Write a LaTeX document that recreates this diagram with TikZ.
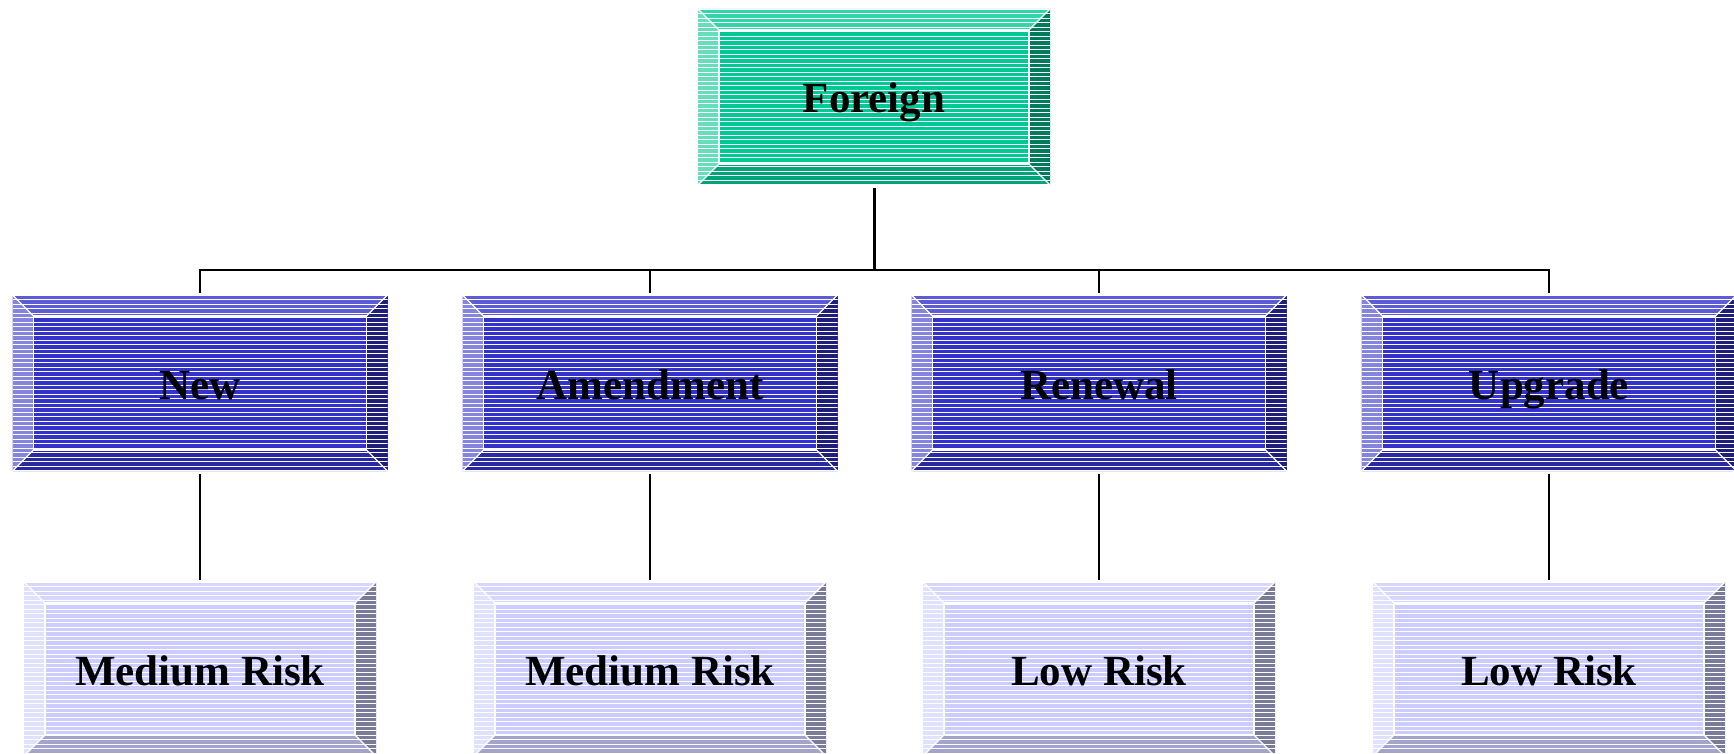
\documentclass[tikz,border=0pt]{standalone}
\usepackage{fontspec}
\setmainfont{Liberation Serif}
\definecolor{gF}{RGB}{0,200,150}
\definecolor{gT}{RGB}{51,212,170}
\definecolor{gL}{RGB}{102,221,187}
\definecolor{gR}{RGB}{0,122,92}
\definecolor{gB}{RGB}{0,163,122}
\definecolor{bF}{RGB}{51,51,204}
\definecolor{bT}{RGB}{92,92,214}
\definecolor{bL}{RGB}{133,133,224}
\definecolor{bR}{RGB}{31,31,122}
\definecolor{bB}{RGB}{41,41,163}
\definecolor{lF}{RGB}{204,204,255}
\definecolor{lT}{RGB}{214,214,255}
\definecolor{lL}{RGB}{224,224,255}
\definecolor{lR}{RGB}{122,122,153}
\definecolor{lB}{RGB}{163,163,204}
\tikzset{
  boxtext/.style={inner sep=0pt, text height=38pt, text depth=6pt,
    font=\fontsize{43}{49}\selectfont\bfseries, text=black},
  conn/.style={draw=black, line width=2pt},
}
\newcommand\bevbox[7]{%
  \pgfmathsetmacro\xa{#2-#4/2}\pgfmathsetmacro\xb{#2+#4/2}%
  \pgfmathsetmacro\ya{#3-#5/2}\pgfmathsetmacro\yb{#3+#5/2}%
  \pgfmathsetmacro\xc{\xa+21}\pgfmathsetmacro\xd{\xb-21}%
  \pgfmathsetmacro\yc{\ya+21}\pgfmathsetmacro\yd{\yb-21}%
  \fill[#6F] (\xa,\ya) rectangle (\xb,\yb);
  \fill[#6T] (\xa,\ya) -- (\xb,\ya) -- (\xd,\yc) -- (\xc,\yc) -- cycle;
  \fill[#6L] (\xa,\ya) -- (\xc,\yc) -- (\xc,\yd) -- (\xa,\yb) -- cycle;
  \fill[#6R] (\xb,\ya) -- (\xd,\yc) -- (\xd,\yd) -- (\xb,\yb) -- cycle;
  \fill[#6B] (\xa,\yb) -- (\xc,\yd) -- (\xd,\yd) -- (\xb,\yb) -- cycle;
  \begin{scope}
    \clip (\xa,\ya) rectangle (\xb,\yb);
    \foreach \k in {0,...,40} {
      \draw[white, line width=0.9pt] (\xa,\ya+\k*4.5) -- (\xb,\ya+\k*4.5);
    }
  \end{scope}
  \draw[white, line width=1.3pt] (\xc,\yc) rectangle (\xd,\yd);
  \draw[white, line width=1.3pt] (\xa,\ya) -- (\xc,\yc) (\xb,\ya) -- (\xd,\yc)
     (\xa,\yb) -- (\xc,\yd) (\xb,\yb) -- (\xd,\yd);
  \node[boxtext, minimum width=#4pt, minimum height=#5pt] (#1) at (#2,#3) {#7};
}
\begin{document}
\begin{tikzpicture}[x=1pt, y=-1pt]
\useasboundingbox (0,0) rectangle (1734,754);
\bevbox{foreign}{874}{97}{352}{176}{g}{Foreign}
\bevbox{new}{200}{383}{375}{176}{b}{New}
\bevbox{amend}{650}{383}{375}{176}{b}{Amendment}
\bevbox{renew}{1099}{383}{375}{176}{b}{Renewal}
\bevbox{upgrade}{1549}{383}{375}{176}{b}{Upgrade}
\bevbox{riskA}{200}{669}{352}{174}{l}{Medium Risk}
\bevbox{riskB}{650}{669}{352}{174}{l}{Medium Risk}
\bevbox{riskC}{1099}{669}{352}{174}{l}{Low Risk}
\bevbox{riskD}{1549}{669}{352}{174}{l}{Low Risk}
\coordinate (bus) at (874,270);
\draw[conn, line width=3pt] ([yshift=-3pt]foreign.south) -- (bus);
\foreach \n in {new,amend,renew,upgrade}{
  \draw[conn] ([yshift=2pt]\n.north) |- (bus);
}
\draw[conn] ([yshift=-3pt]new.south) -- ([yshift=2pt]riskA.north);
\draw[conn] ([yshift=-3pt]amend.south) -- ([yshift=2pt]riskB.north);
\draw[conn] ([yshift=-3pt]renew.south) -- ([yshift=2pt]riskC.north);
\draw[conn] ([yshift=-3pt]upgrade.south) -- ([yshift=2pt]riskD.north);
\end{tikzpicture}
\end{document}
